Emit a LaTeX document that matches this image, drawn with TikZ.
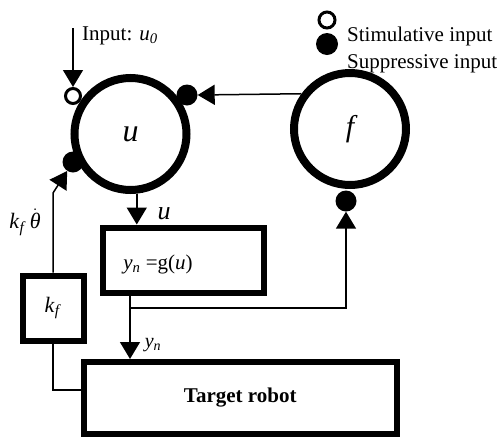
\documentclass[tikz,border=0pt]{standalone}
\usepackage{fontspec}
\setmainfont{Liberation Serif}
\usetikzlibrary{arrows.meta}
\tikzset{
  bigcirc/.style={circle,draw,line width=8pt,minimum size=112pt,inner sep=0pt},
  blockbox/.style={rectangle,draw,line width=6pt,inner sep=0pt},
  thinline/.style={line width=1.5pt},
  arr/.style={thinline,-{Triangle[width=20pt,length=17pt]}},
  supdot/.style={circle,fill=black,minimum size=21pt,inner sep=0pt},
  stimdot/.style={circle,draw,fill=white,line width=3pt,minimum size=15pt,inner sep=0pt},
  txt/.style={inner sep=0pt,font=\fontsize{21}{25}\selectfont},
}
\begin{document}
\begin{tikzpicture}[x=1pt,y=-1pt]
\useasboundingbox (0,0) rectangle (503,437);
% main nodes
\node[bigcirc,font=\fontsize{32}{36}\selectfont\itshape] (u) at (130.5,134) {u};
\node[bigcirc,font=\fontsize{30}{34}\selectfont\itshape] (f) at (350,129) {f};
\node[blockbox,minimum width=161pt,minimum height=65pt] (g) at (183,260) {};
\node[blockbox,minimum width=61pt,minimum height=65pt,font=\fontsize{22}{26}\selectfont] (kf) at (53,308) {\textit{k}\textsubscript{\textit{f}}};
\node[blockbox,minimum width=313.5pt,minimum height=72pt,font=\fontsize{21}{25}\selectfont\bfseries] (robot) at (240.25,398) {Target robot};
% input dots
\node[stimdot] (stim) at (73,96) {};
\node[supdot] (sup1) at (187,95) {};
\node[supdot] (sup2) at (73,162) {};
\node[supdot] (sup3) at (346,201) {};
% legend
\node[stimdot,minimum size=16pt] (legs) at (327,20) {};
\node[supdot,minimum size=22pt] (legp) at (327,44) {};
\node[txt,anchor=west] (legst) at (347,36) {Stimulative input};
\node[txt,anchor=west] (legpt) at (347,64) {Suppressive input};
% connectors
\coordinate (in0) at (73,28);
\draw[arr] (in0) -- (stim.north);
\node[txt,anchor=west] (inlab) at (82,36) {Input: \textit{u}\textsubscript{\textit{0}}};
\draw[arr] (f.144) -- (sup1.east);
\draw[arr] (u.-84) -- (u.-84 |- g.north);
\node[inner sep=0pt,font=\fontsize{26}{30}\selectfont\itshape] (ulab) at (164,214) {u};
\node[txt] (glab) at (158,264) {\textit{y}\textsubscript{\textit{n}} =g(\textit{u})};
\coordinate (gout) at (130,292);
\coordinate (br) at (130,308);
\draw[arr] (gout) -- (gout |- robot.north);
\draw[arr] (br) -| (sup3.south);
\node[inner sep=0pt,font=\fontsize{20}{24}\selectfont] (ynlab) at (153,345) {\textit{y}\textsubscript{\textit{n}}};
\coordinate (bend) at (53,193);
\draw[arr] (kf.north) -- (bend) -- (sup2);
\node[inner sep=0pt,font=\fontsize{22}{26}\selectfont] (kflab) at (25,222) {\textit{k}\textsubscript{\textit{f}}\,$\dot{\mbox{\textit{θ}}}$};
\draw[thinline] (kf.south) |- ([yshift=8pt]robot.west);
\end{tikzpicture}
\end{document}
